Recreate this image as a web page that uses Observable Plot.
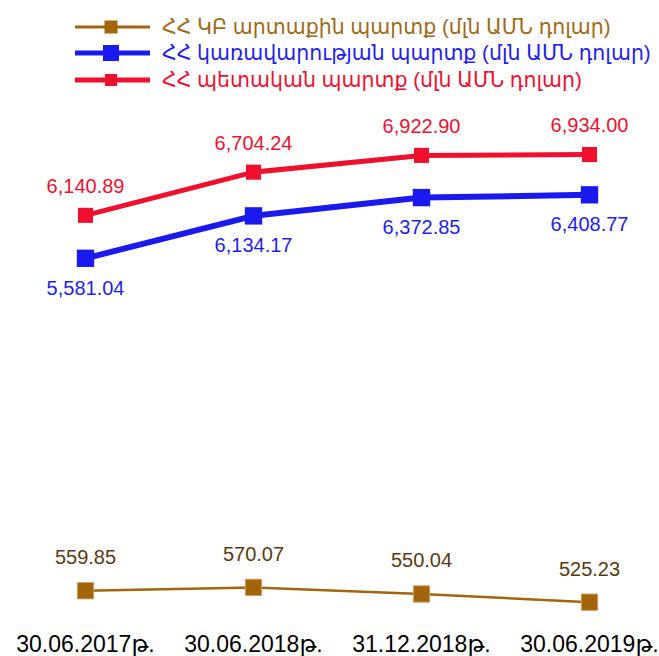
<!DOCTYPE html>
<html>
<head>
<meta charset="utf-8">
<script src="https://cdn.jsdelivr.net/npm/d3@7"></script>
<script src="https://cdn.jsdelivr.net/npm/@observablehq/plot@0.6"></script>
<style>
  html, body { margin: 0; padding: 0; background: #fff; }
  #wrap { width: 659px; height: 656px; position: relative; overflow: hidden; }
  #legend { position: relative; width: 659px; height: 100px; font-family: "Liberation Sans", "DejaVu Sans", sans-serif; }
  .row { position: absolute; left: 0; height: 26px; }
  .row svg { position: absolute; left: 70px; top: 1px; }
  .row span { position: absolute; left: 162px; top: 0; line-height: 26px; font-size: 20.5px; white-space: nowrap; }
</style>
</head>
<body>
<div id="wrap">
  <div id="legend"></div>
  <div id="chart"></div>
</div>
<script>
const dates = ["30.06.2017թ.", "30.06.2018թ.", "31.12.2018թ.", "30.06.2019թ."];
const externalDebtCB = [559.85, 570.07, 550.04, 525.23];
const governmentDebt = [5581.04, 6134.17, 6372.85, 6408.77];
const stateDebt = [6140.89, 6704.24, 6922.90, 6934.00];
const seriesNames = [
  "ՀՀ ԿԲ արտաքին պարտք (մլն ԱՄՆ դոլար)",
  "ՀՀ կառավարության պարտք (մլն ԱՄՆ դոլար)",
  "ՀՀ պետական պարտք (մլն ԱՄՆ դոլար)"
];

const colors = { cb: "#a2650b", gov: "#1a1af0", state: "#f0102e" };
const textColors = { cb: "#a06a16", gov: "#1e1ef0", state: "#f0102e" };

// Legend (HTML above the SVG)
const legendSpec = [
  { name: seriesNames[0], color: colors.cb, text: textColors.cb, top: 14, sw: 3, sq: 13 },
  { name: seriesNames[1], color: colors.gov, text: textColors.gov, top: 40, sw: 5, sq: 16 },
  { name: seriesNames[2], color: colors.state, text: textColors.state, top: 67, sw: 5, sq: 12 }
];
const legend = document.getElementById("legend");
for (const s of legendSpec) {
  const row = document.createElement("div");
  row.className = "row";
  row.style.top = s.top + "px";
  row.innerHTML =
    `<svg width="84" height="24"><line x1="5" x2="80" y1="12" y2="12" stroke="${s.color}" stroke-width="${s.sw}"/>` +
    `<rect x="${41 - s.sq / 2}" y="${12 - s.sq / 2}" width="${s.sq}" height="${s.sq}" fill="${s.color}"/></svg>` +
    `<span style="color:${s.text}">${s.name}</span>`;
  legend.appendChild(row);
}

const fmt = d3.format(",.2f");
const cb = dates.map((d, i) => ({ date: d, value: externalDebtCB[i] }));
const gov = dates.map((d, i) => ({ date: d, value: governmentDebt[i] }));
const st = dates.map((d, i) => ({ date: d, value: stateDebt[i] }));

const font = "Liberation Sans, DejaVu Sans, sans-serif";

// broken value axis: the small CB series and the large debt series share one
// y scale whose transform compresses the empty gap between them
const yBreak = d3.scaleLinear().domain([500, 600, 5500, 7000]).range([0, 33, 346, 461]);

const chart = Plot.plot({
  width: 659,
  height: 556,
  marginLeft: 84,
  marginRight: 70,
  marginTop: 0,
  marginBottom: 30,
  style: { fontFamily: font, background: "transparent" },
  x: { type: "point", domain: dates, padding: 0, label: null },
  y: { transform: yBreak, domain: [0, 461], range: [510, 49], axis: null },
  marks: [
    Plot.axisX({ tickSize: 0, tickPadding: 9, fontSize: 23, label: null, fill: "#000" }),
    Plot.line(cb, { x: "date", y: "value", stroke: colors.cb, strokeWidth: 2.5 }),
    Plot.line(gov, { x: "date", y: "value", stroke: colors.gov, strokeWidth: 6 }),
    Plot.line(st, { x: "date", y: "value", stroke: colors.state, strokeWidth: 5 }),
    Plot.dot(cb, { x: "date", y: "value", symbol: "square", r: 9.2, fill: colors.cb, stroke: "#c8a060", strokeWidth: 1 }),
    Plot.dot(gov, { x: "date", y: "value", symbol: "square", r: 9.8, fill: colors.gov }),
    Plot.dot(st, { x: "date", y: "value", symbol: "square", r: 8.5, fill: colors.state }),
    Plot.text(cb, { x: "date", y: "value", text: d => fmt(d.value), dy: -33, fill: "#5a3a10", fontSize: 20 }),
    Plot.text(gov, { x: "date", y: "value", text: d => fmt(d.value), dy: 30, fill: textColors.gov, fontSize: 20 }),
    Plot.text(st, { x: "date", y: "value", text: d => fmt(d.value), dy: -29, fill: colors.state, fontSize: 20 })
  ]
});
document.getElementById("chart").appendChild(chart);
</script>
</body>
</html>
